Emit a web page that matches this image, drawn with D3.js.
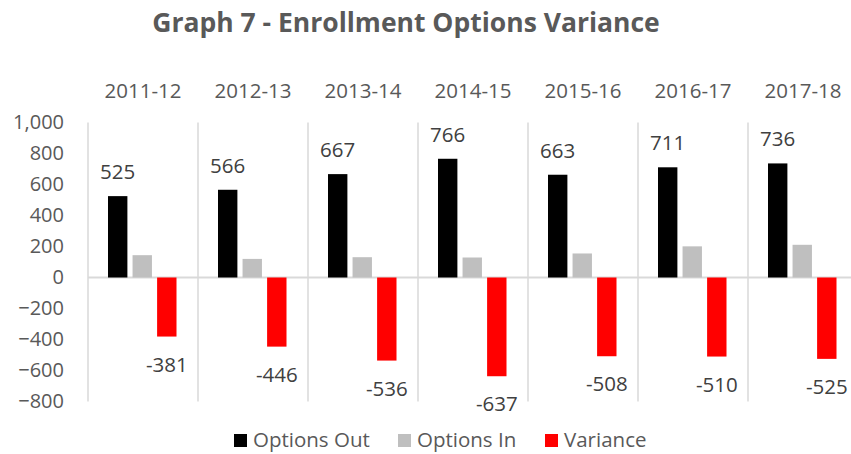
<!DOCTYPE html>
<html>
<head>
<meta charset="utf-8">
<script src="https://cdn.jsdelivr.net/npm/d3@7"></script>
<style>
  body { margin: 0; background: #fff; }
  svg { display: block; font-family: "Open Sans", sans-serif; }
</style>
</head>
<body>
<svg id="chart" width="851" height="454"></svg>
<script>
var years = ['2011-12', '2012-13', '2013-14', '2014-15', '2015-16', '2016-17', '2017-18'];
var optionsOut = [525, 566, 667, 766, 663, 711, 736];
var optionsIn = [144, 120, 131, 129, 155, 201, 211];
var variance = [-381, -446, -536, -637, -508, -510, -525];
var yTicks = [-800, -600, -400, -200, 0, 200, 400, 600, 800, 1000];

var seriesNames = ['Options Out', 'Options In', 'Variance'];
var seriesColors = ['#000000', '#bfbfbf', '#ff0000'];
var textColor = '#595959';
var gridColor = '#d9d9d9';

var svg = d3.select('#chart');

var data = years.map((y, i) => ({year: y, values: [optionsOut[i], optionsIn[i], variance[i]]}));

var x0 = d3.scaleBand().domain(years).range([88, 858]).padding(0);
var x1 = d3.scaleBand().domain(seriesNames).range([20, 88.5]).paddingInner(0.21).paddingOuter(0);
var y = d3.scaleLinear().domain([-800, 1000]).range([401.5, 122.5]);

// title
svg.append('text')
  .attr('x', 406)
  .attr('y', 32)
  .attr('text-anchor', 'middle')
  .attr('font-size', 26.5)
  .attr('font-weight', 'bold')
  .attr('fill', textColor)
  .text('Graph 7 - Enrollment Options Variance');

// category separators
var seps = years.map(d => x0(d)).concat([x0.range()[1]]);
svg.append('g').selectAll('line')
  .data(seps)
  .enter().append('line')
  .attr('x1', d => d).attr('x2', d => d)
  .attr('y1', y(1000)).attr('y2', y(-800))
  .attr('stroke', gridColor)
  .attr('stroke-width', 1.5);

// zero line
svg.append('line')
  .attr('x1', x0.range()[0]).attr('x2', x0.range()[1])
  .attr('y1', y(0)).attr('y2', y(0))
  .attr('stroke', gridColor)
  .attr('stroke-width', 2);

// y axis labels
var yAxis = d3.axisLeft(y).tickValues(yTicks).tickSize(0).tickPadding(0).tickFormat(d3.format(','));
var yg = svg.append('g').attr('transform', 'translate(64,0)').call(yAxis);
yg.select('.domain').remove();
yg.selectAll('text')
  .attr('font-size', 20)
  .attr('font-family', '"Open Sans", sans-serif')
  .attr('fill', textColor);

// category labels on top
svg.append('g').selectAll('text')
  .data(years)
  .enter().append('text')
  .attr('x', d => x0(d) + x0.bandwidth() / 2)
  .attr('y', 98)
  .attr('text-anchor', 'middle')
  .attr('font-size', 20.5)
  .attr('fill', textColor)
  .text(d => d);

// bars
var groups = svg.append('g').selectAll('g')
  .data(data)
  .enter().append('g')
  .attr('transform', d => 'translate(' + x0(d.year) + ',0)');

groups.selectAll('rect')
  .data(d => d.values.map((v, i) => ({key: seriesNames[i], value: v, color: seriesColors[i]})))
  .enter().append('rect')
  .attr('x', d => x1(d.key))
  .attr('width', x1.bandwidth())
  .attr('y', d => y(Math.max(0, d.value)))
  .attr('height', d => Math.abs(y(d.value) - y(0)))
  .attr('fill', d => d.color);

// data labels
groups.append('text')
  .attr('x', x1('Options Out') + x1.bandwidth() / 2)
  .attr('y', d => y(d.values[0]) - 17)
  .attr('text-anchor', 'middle')
  .attr('font-size', 20.5)
  .attr('fill', '#404040')
  .text(d => d.values[0]);

groups.append('text')
  .attr('x', x1('Variance') + x1.bandwidth() / 2)
  .attr('y', d => y(d.values[2]) + 35)
  .attr('text-anchor', 'middle')
  .attr('font-size', 20.5)
  .attr('fill', '#404040')
  .text(d => d.values[2]);

// legend
var legendX = [234, 398, 545];
var legend = svg.append('g').selectAll('g')
  .data(seriesNames)
  .enter().append('g')
  .attr('transform', (d, i) => 'translate(' + legendX[i] + ',0)');
legend.append('rect')
  .attr('x', 0).attr('y', 434)
  .attr('width', 13).attr('height', 13)
  .attr('fill', (d, i) => seriesColors[i]);
legend.append('text')
  .attr('x', 19).attr('y', 447)
  .attr('font-size', 20.5)
  .attr('fill', textColor)
  .text(d => d);
</script>
</body>
</html>
